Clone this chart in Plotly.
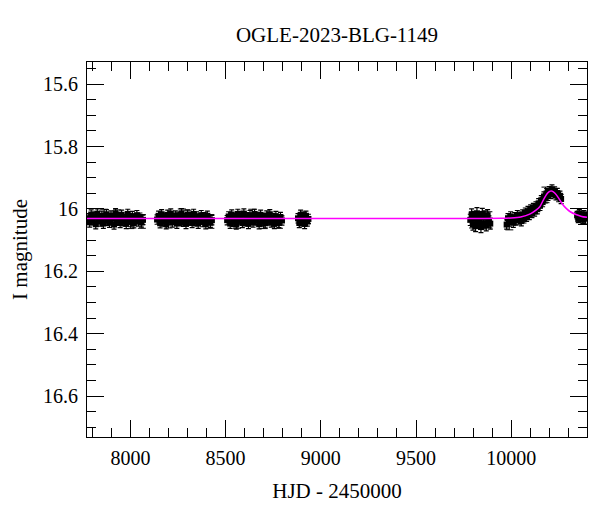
import plotly.graph_objects as go

# ---- data ----
tA = [7778, 7786, 7794, 7802, 7810, 7818, 7826, 7834, 7842, 7850, 7858, 7866, 7874, 7882, 7890, 7898, 7906, 7914, 7922,
      7930, 7938, 7946, 7954, 7962, 7970, 7978, 7986, 7994, 8002, 8010, 8018, 8026, 8034, 8042, 8050, 8058, 8066]
mA = [16.030, 16.043, 16.018, 16.036, 16.025, 16.049, 16.015, 16.033, 16.040, 16.022, 16.047, 16.028, 16.017, 16.038,
      16.044, 16.021, 16.031, 16.050, 16.014, 16.035, 16.026, 16.045, 16.019, 16.039, 16.032, 16.048, 16.016, 16.030,
      16.042, 16.023, 16.046, 16.033, 16.020, 16.040, 16.028, 16.043, 16.035]

tB = [8140, 8148, 8156, 8164, 8172, 8180, 8188, 8196, 8204, 8212, 8220, 8228, 8236, 8244, 8252, 8260, 8268, 8276, 8284,
      8292, 8300, 8308, 8316, 8324, 8332, 8340, 8348, 8356, 8364, 8372, 8380, 8388, 8396, 8404, 8412, 8420, 8428]
mB = [16.034, 16.022, 16.046, 16.017, 16.040, 16.028, 16.049, 16.019, 16.036, 16.015, 16.043, 16.031, 16.021, 16.047,
      16.025, 16.038, 16.014, 16.041, 16.030, 16.048, 16.018, 16.034, 16.026, 16.045, 16.016, 16.039, 16.024, 16.047,
      16.031, 16.020, 16.042, 16.027, 16.049, 16.022, 16.035, 16.044, 16.036]

tC = [8508, 8516, 8524, 8532, 8540, 8548, 8556, 8564, 8572, 8580, 8588, 8596, 8604, 8612, 8620, 8628, 8636, 8644, 8652,
      8660, 8668, 8676, 8684, 8692, 8700, 8708, 8716, 8724, 8732, 8740, 8748, 8756, 8764, 8772, 8780, 8788, 8796]
mC = [16.036, 16.024, 16.047, 16.018, 16.041, 16.029, 16.050, 16.016, 16.034, 16.023, 16.045, 16.015, 16.039, 16.027,
      16.048, 16.020, 16.033, 16.043, 16.016, 16.036, 16.026, 16.049, 16.019, 16.040, 16.030, 16.046, 16.021, 16.037,
      16.017, 16.043, 16.029, 16.048, 16.023, 16.034, 16.045, 16.026, 16.037]

tD = [8880, 8887, 8894, 8901, 8908, 8915, 8922, 8929, 8935]
mD = [16.030, 16.045, 16.019, 16.038, 16.025, 16.048, 16.022, 16.040, 16.032]

tE = [9785, 9792, 9799, 9806, 9813, 9820, 9827, 9834, 9841, 9848, 9855, 9862, 9869, 9876, 9883, 9890]
mE = [16.035, 16.018, 16.050, 16.026, 16.055, 16.014, 16.042, 16.030, 16.058, 16.016, 16.046, 16.024, 16.052, 16.020,
      16.040, 16.047]

tF = [9976, 9983, 9990, 9997, 10004, 10011, 10018, 10025, 10032, 10039, 10046, 10053, 10060, 10067, 10074, 10081,
      10088, 10095, 10102, 10109, 10116, 10123, 10130, 10137, 10144, 10151, 10158, 10165, 10172, 10179, 10186, 10193,
      10200, 10207, 10214, 10221, 10228, 10235, 10242, 10249, 10256, 10262]
mF = [16.050, 16.030, 16.040, 16.024, 16.035, 16.044, 16.027, 16.037, 16.020, 16.034, 16.025, 16.039, 16.018, 16.030,
      16.012, 16.025, 16.007, 16.019, 16.002, 16.013, 15.997, 16.008, 15.992, 16.001, 15.982, 15.990, 15.972, 15.978,
      15.960, 15.966, 15.950, 15.958, 15.943, 15.952, 15.938, 15.950, 15.944, 15.956, 15.949, 15.962, 15.958, 15.968]

tG = [10346, 10352, 10358, 10364, 10370, 10376, 10382, 10388, 10394]
mG = [16.020, 16.032, 16.014, 16.028, 16.022, 16.035, 16.017, 16.029, 16.024]

errA, errB, errC, errD, errE, errF, errG = 0.015, 0.015, 0.015, 0.015, 0.018, 0.015, 0.012

# a few points with larger error bars (caps sticking out of the blobs)
tOut = [7862, 7930, 8000, 8060, 8200, 8270, 8300, 8420, 8560, 8640, 8700, 8780, 8905, 9800, 9880, 9990, 10180, 10390]
mOut = [16.025, 16.028, 16.040, 16.040, 16.038, 16.025, 16.028, 16.040, 16.040, 16.026, 16.040, 16.040, 16.033, 16.035,
        16.035, 16.045, 15.955, 16.030]
eOut = [0.024, 0.025, 0.023, 0.022, 0.023, 0.025, 0.024, 0.022, 0.022, 0.025, 0.023, 0.022, 0.022, 0.026, 0.026, 0.022,
        0.025, 0.018]

model_t = [7772, 9800, 9950, 10000, 10050, 10100, 10130, 10150, 10170, 10190, 10205, 10215, 10230, 10250, 10270,
           10290, 10310, 10340, 10370, 10398]
model_m = [16.031, 16.031, 16.030, 16.029, 16.026, 16.016, 16.004, 15.993, 15.970, 15.950, 15.943, 15.943, 15.950,
           15.966, 15.986, 15.999, 16.009, 16.018, 16.024, 16.027]

x_range = [7772, 10398]
y_range = [16.731, 15.529]
y_ticks = [15.6, 15.8, 16.0, 16.2, 16.4, 16.6]
x_ticks = [8000, 8500, 9000, 9500, 10000]

FONT = "Liberation Serif"
OFF = 8  # page offset of the figure inside the browser window

fig = go.Figure()
seasons = [(tA, mA, errA), (tB, mB, errB), (tC, mC, errC), (tD, mD, errD), (tE, mE, errE), (tF, mF, errF), (tG, mG, errG)]
for t, m, e in seasons:
    fig.add_trace(go.Scatter(
        x=t, y=m, mode="markers",
        marker=dict(symbol="square", size=6, color="black", line=dict(width=0)),
        error_y=dict(type="constant", value=e, color="black", thickness=1.2, width=2.5),
        showlegend=False, hoverinfo="skip"))

fig.add_trace(go.Scatter(
    x=tOut, y=mOut, mode="markers",
    marker=dict(symbol="square", size=4, color="black", line=dict(width=0)),
    error_y=dict(type="data", array=eOut, color="black", thickness=1, width=4),
    showlegend=False, hoverinfo="skip"))

fig.add_trace(go.Scatter(x=model_t, y=model_m, mode="lines",
                         line=dict(color="#ff00ff", width=1.5, shape="spline", smoothing=0.6),
                         showlegend=False))

axis_common = dict(showline=True, linecolor="black", linewidth=1, mirror="allticks", ticks="inside",
                   tickcolor="black", tickwidth=1, ticklen=17, showgrid=False, zeroline=False, automargin=False,
                   tickfont=dict(family=FONT, size=20, color="black"))

fig.update_xaxes(range=x_range, tickvals=x_ticks, ticktext=[str(v) for v in x_ticks], ticklabelstandoff=3,
                 minor=dict(dtick=100, tick0=0, ticks="inside", ticklen=9, tickcolor="black", tickwidth=1, showgrid=False),
                 title=dict(text="HJD - 2450000", font=dict(family=FONT, size=21, color="black"), standoff=15),
                 **axis_common)
fig.update_yaxes(range=y_range, tickvals=y_ticks, ticktext=["15.6", "15.8", "16", "16.2", "16.4", "16.6"],
                 ticklabelstandoff=4,
                 minor=dict(dtick=0.05, tick0=0, ticks="inside", ticklen=9, tickcolor="black", tickwidth=1, showgrid=False),
                 title=dict(text="I magnitude", font=dict(family=FONT, size=21, color="black"), standoff=12),
                 **axis_common)

fig.update_layout(
    width=600, height=512,
    margin=dict(l=87 - OFF, r=13 + OFF, t=62 - OFF, b=75 + OFF),
    paper_bgcolor="white", plot_bgcolor="white",
    title=dict(text="OGLE-2023-BLG-1149", font=dict(family=FONT, size=21, color="black"),
               x=(337 - OFF) / 600, xanchor="center", xref="container",
               y=1 - (35 - OFF) / 512, yanchor="middle", yref="container"),
)

fig.write_html("out.html")
